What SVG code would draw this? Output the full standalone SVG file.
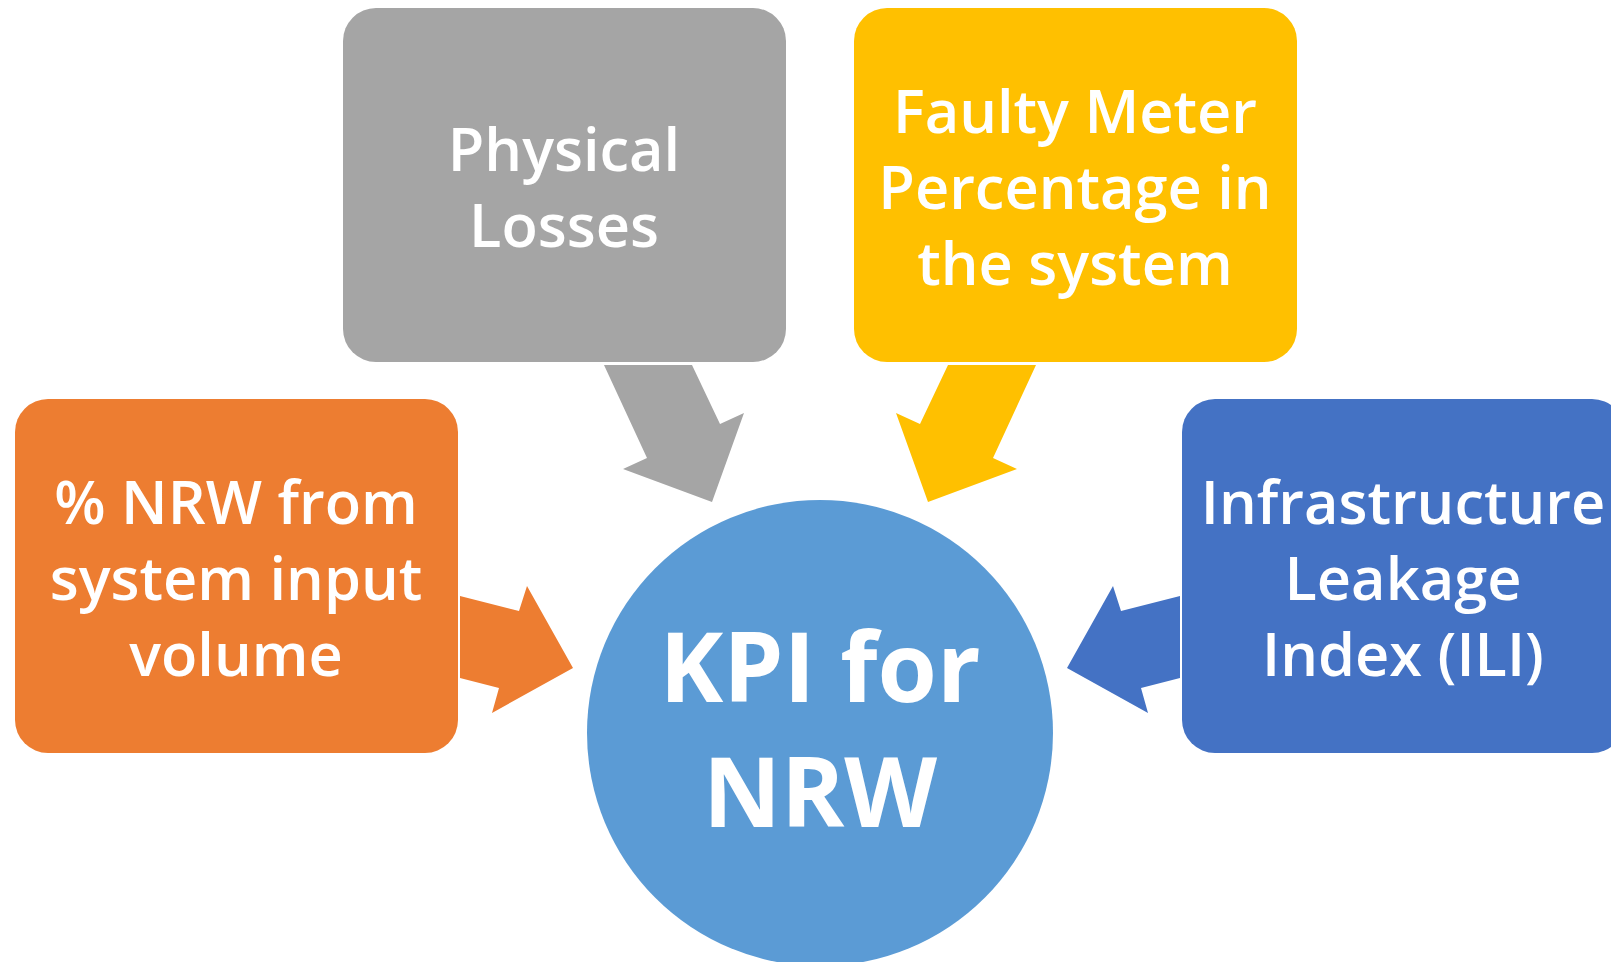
<svg xmlns="http://www.w3.org/2000/svg" width="1611" height="962" viewBox="0 0 1611 962">
<style>
.lbl{font-family:"Open Sans","Noto Sans","DejaVu Sans",sans-serif;font-size:59.5px;font-weight:600;fill:#fff;text-anchor:middle}
.kpi{font-family:"Open Sans","Noto Sans","DejaVu Sans",sans-serif;font-size:96px;font-weight:bold;fill:#fff;text-anchor:middle}
</style>
<rect width="1611" height="962" fill="#fff"/>
<g id="connectors">
<polygon fill="#A5A5A5" points="604,365 692,365 720,424 744,413 712,502 623,469 647,458"/>
<polygon fill="#FFC000" points="1036,365 948,365 920,424 896,413 928,502 1017,469 993,458"/>
<polygon fill="#ED7D31" points="460,596 519,611 527,586 573,668 492,713 499,688 460,678"/>
<polygon fill="#4472C4" points="1180,596 1121,611 1113,586 1067,668 1148,713 1141,688 1180,678"/>
</g>
<g id="center">
<circle cx="820" cy="733" r="233" fill="#5B9BD5"/>
<text class="kpi" x="820" y="702">KPI for</text>
<text class="kpi" x="820" y="827">NRW</text>
</g>
<g id="physical">
<rect x="343" y="8" width="443" height="354" rx="33" fill="#A5A5A5"/>
<text class="lbl" x="564" y="171">Physical</text>
<text class="lbl" x="564" y="247">Losses</text>
</g>
<g id="faulty">
<rect x="854" y="8" width="443" height="354" rx="33" fill="#FFC000"/>
<text class="lbl" x="1075" y="133">Faulty Meter</text>
<text class="lbl" x="1075" y="209">Percentage in</text>
<text class="lbl" x="1075" y="285">the system</text>
</g>
<g id="nrw">
<rect x="15" y="399" width="443" height="354" rx="33" fill="#ED7D31"/>
<text class="lbl" x="236" y="524">% NRW from</text>
<text class="lbl" x="236" y="600">system input</text>
<text class="lbl" x="236" y="676">volume</text>
</g>
<g id="ili">
<rect x="1182" y="399" width="443" height="354" rx="33" fill="#4472C4"/>
<text class="lbl" x="1403" y="524">Infrastructure</text>
<text class="lbl" x="1403" y="600">Leakage</text>
<text class="lbl" x="1403" y="676">Index (ILI)</text>
</g>
</svg>
